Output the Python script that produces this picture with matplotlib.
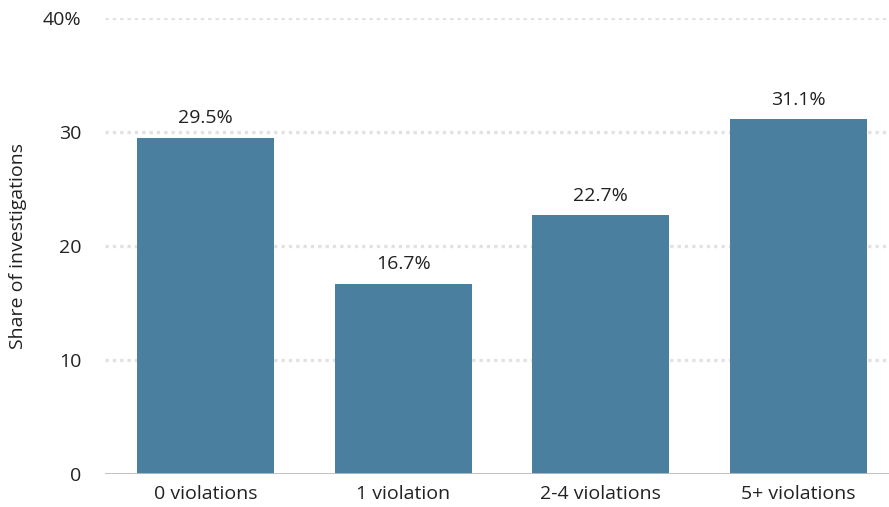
import matplotlib
matplotlib.use("Agg")
import matplotlib.pyplot as plt
import numpy as np

categories = ["0 violations", "1 violation", "2-4 violations", "5+ violations"]
shares = [29.5, 16.7, 22.7, 31.1]
yticks = [0, 10, 20, 30, 40]
ytick_labels = ["0", "10", "20", "30", "40%"]

plt.rcParams['font.family'] = ['Open Sans', 'DejaVu Sans']
FS = 14

fig = plt.figure(figsize=(8.89, 5.07), dpi=100)
ax = fig.add_axes([0.118, 0.065, 0.882, 0.8995])

x = np.arange(len(categories))
bars = ax.bar(x, shares, width=0.693, color="#4a7fa0", zorder=3)
for b, v in zip(bars, shares):
    ax.text(b.get_x() + b.get_width() / 2, v + 0.9, f"{v}%", ha="center", va="bottom",
            fontsize=FS, color="#222222")

ax.set_xlim(-0.508, 3.457)
ax.set_ylim(0, 40)
ax.set_yticks(yticks)
ax.set_yticklabels(ytick_labels)
ax.set_xticks(x)
ax.set_xticklabels(categories)
ax.tick_params(axis="both", length=0, labelsize=FS, colors="#222222")
ax.tick_params(axis="y", pad=17)
ax.tick_params(axis="x", pad=8)

for t in yticks[1:]:
    ax.axhline(t, color="#e2e2e2", linestyle=(0, (1, 1.2)), linewidth=2.4, zorder=1)
ax.axhline(0, color="#bbbbbb", linewidth=2, zorder=4)

for s in ax.spines.values():
    s.set_visible(False)

ax.set_ylabel("Share of investigations", fontsize=FS, color="#222222")
ax.yaxis.set_label_coords(-0.099, 0.5)

fig.savefig("out.png", dpi=100)
